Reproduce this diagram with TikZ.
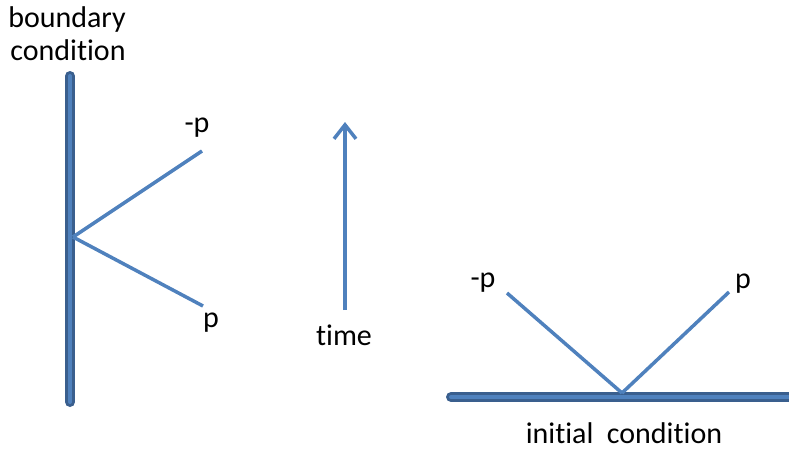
\documentclass[tikz,border=0pt]{standalone}
\usepackage{fontspec}
\setmainfont{Carlito}[Ligatures=NoCommon]
\usetikzlibrary{arrows.meta}
\definecolor{rayblue}{HTML}{4F81BD}
\definecolor{wallblue}{HTML}{3A5F8E}

\begin{document}
\begin{tikzpicture}[x=1pt,y=-1pt,semithick,
    ray/.style={draw=rayblue,line width=3.5pt},
    wall/.style={draw=wallblue,double=rayblue,line width=3pt,double distance=4pt,line cap=round},
    lbl/.style={anchor=base,inner sep=0pt,font=\fontsize{30}{33}\selectfont}]
                \useasboundingbox (0,0) rectangle (789,450);
                \clip (0,0) rectangle (789,450);
                % boundary on the left
                \coordinate(wallTop)at(70, 76);
                \coordinate(wallBot)at(70, 402);
                \coordinate(bounce)at(73, 237);
                \coordinate(outL)at(202, 151);
                \coordinate(inL)at(203, 306);
                \node[lbl](boundary)at(67, 27){boundary};
                \node[lbl](condL)at(68, 60){condition};
                \node[lbl](mpL)at(197, 132){-p};
                \node[lbl](pL)at(211, 327){p};
                \draw[wall](wallTop) -- (wallBot);
                \path[ray](bounce) edge (outL)
                (bounce) edge (inL);
                % time arrow
                \coordinate(tFrom)at(345, 310);
                \coordinate(tTo)at(345, 122);
                \node[lbl](time)at(344, 345){time};
                \draw[ray,-{Straight Barb[length=14pt,width=22pt]}](tFrom) -- (tTo);
                % initial condition on the right
                \coordinate(floorL)at(451, 397);
                \coordinate(floorR)at(800, 397);
                \coordinate(start)at(622, 393);
                \coordinate(outR)at(729, 292);
                \coordinate(inR)at(507, 293);
                \node[lbl](mpR)at(483, 287){-p};
                \node[lbl](pR)at(743, 288){p};
                \node[lbl](initial)at(624, 443){initial~ condition};
                \draw[wall](floorL) -- (floorR);
                \path[ray](start) edge (outR)
                (start) edge (inR);
            \end{tikzpicture}
\end{document}
